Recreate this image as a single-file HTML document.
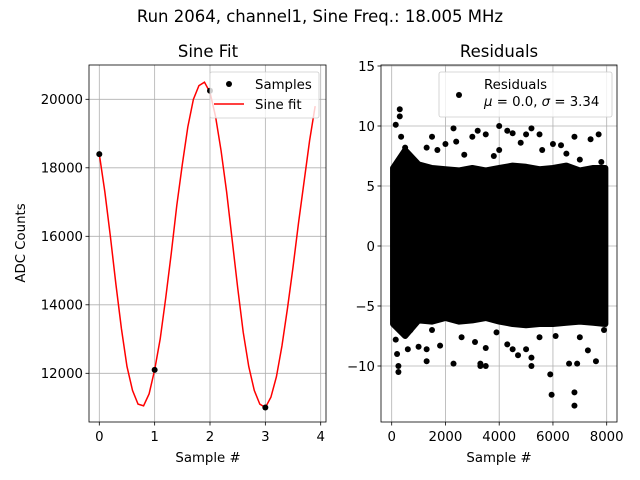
<!DOCTYPE html>
<html><head><meta charset="utf-8"><style>
html,body{margin:0;padding:0;background:#fff}
svg{display:block;font-family:"DejaVu Sans","Liberation Sans",sans-serif}
</style></head><body>
<svg id="fig" width="640" height="480" viewBox="0 0 640 480">
<text x="320" y="22" font-size="16.5" text-anchor="middle">Run 2064, channel1, Sine Freq.: 18.005 MHz</text>
<g id="left"></g>
<g id="right"></g>
</svg>
<script>
const sampleX=[0,1,2,3];
const sampleY=[18400,12100,20250,11000];
const fitX=[0,0.1,0.2,0.3,0.4,0.5,0.6,0.7,0.8,0.9,1.0,1.1,1.2,1.3,1.4,1.5,1.6,1.7,1.8,1.9,2.0,2.1,2.2,2.3,2.4,2.5,2.6,2.7,2.8,2.9,3.0,3.1,3.2,3.3,3.4,3.5,3.6,3.7,3.8,3.9];
const fitY=[18400,17300,16000,14600,13300,12200,11500,11100,11050,11400,12100,13000,14200,15500,16900,18100,19200,20000,20400,20500,20200,19500,18500,17300,15900,14500,13200,12200,11500,11100,11000,11300,11900,12800,13900,15100,16400,17600,18800,19800];
const leftXTicks=[0,1,2,3,4];
const leftYTicks=[12000,14000,16000,18000,20000];
const bandX=[50,500,1000,1500,2000,2500,3000,3500,4000,4500,5000,5500,6000,6500,7000,7500,7950];
const bandHi=[6.5,8.0,6.8,6.5,6.4,6.3,6.5,6.3,6.5,6.7,6.6,6.4,6.5,6.7,6.3,6.5,6.5];
const bandLo=[-6.5,-7.5,-6.2,-6.3,-6.0,-6.3,-6.2,-6.0,-6.3,-6.5,-6.6,-6.5,-6.5,-6.4,-6.3,-6.4,-6.5];
const outX=[300,300,150,350,1500,2500,2300,2400,3000,3200,3500,4000,4300,4500,5000,5200,5500,6000,6800,7400,7700,4000,1700,6300,500,800,1300,2000,2700,3800,4800,5600,6500,7000,7800,
 250,250,200,150,1300,1300,2300,3300,3300,3500,3500,4500,4700,5200,5200,5900,5950,6800,6800,6900,6600,7600,7300,5000,4300,1800,600,1000,700,1500,2600,3100,3900,5500,6100,7000,7900];
const outY=[11.4,10.8,10.1,9.1,9.1,12.6,9.8,8.7,9.1,9.6,9.3,10.0,9.6,9.4,9.3,9.8,9.3,8.5,9.1,8.9,9.3,8.0,8.0,8.4,8.2,7.0,8.2,8.5,7.6,7.5,8.6,8.0,7.7,7.2,7.0,
 -10.5,-10.0,-9.0,-7.8,-9.6,-8.6,-9.8,-10.0,-9.8,-10.0,-8.5,-8.6,-9.1,-10.0,-9.3,-10.7,-12.4,-12.2,-13.3,-9.8,-9.8,-9.6,-8.7,-8.6,-8.2,-8.3,-8.6,-8.4,-7.0,-7.0,-7.6,-8.0,-7.2,-7.6,-7.5,-7.6,-7.0];
const rightXTicks=[0,2000,4000,6000,8000];
const rightYTicks=[-10,-5,0,5,10,15];

const NS="http://www.w3.org/2000/svg";
function mk(parent,tag,attrs,text){const e=document.createElementNS(NS,tag);for(const k in attrs)e.setAttribute(k,attrs[k]);if(text!==undefined)e.textContent=text;parent.appendChild(e);return e;}
const FS=13.3;

// LEFT
const L=document.getElementById('left');
const lx=v=>99.3+v*55.35, ly=v=>373.3-(v-12000)*0.03425;
const T=65,B=422;
leftXTicks.forEach(t=>{const g=mk(L,'line',{x1:lx(t),x2:lx(t),y1:T,y2:B,stroke:'#b0b0b0','stroke-width':0.8});

mk(L,'line',{x1:lx(t),x2:lx(t),y1:B,y2:B+3.5,stroke:'#000','stroke-width':0.8});
const tx=mk(L,'text',{x:lx(t),y:B+19,'font-size':FS,'text-anchor':'middle'},String(t));
});
leftYTicks.forEach(t=>{const g=mk(L,'line',{x1:89,x2:326,y1:ly(t),y2:ly(t),stroke:'#b0b0b0','stroke-width':0.8});

mk(L,'line',{x1:85.5,x2:89,y1:ly(t),y2:ly(t),stroke:'#000','stroke-width':0.8});
const tx=mk(L,'text',{x:83,y:ly(t)+4.8,'font-size':FS,'text-anchor':'end'},String(t));
});
const fp=mk(L,'polyline',{points:fitX.map((x,i)=>lx(x)+','+ly(fitY[i])).join(' '),fill:'none',stroke:'#ff0000','stroke-width':1.5});

sampleX.forEach((x,i)=>{const c=mk(L,'circle',{cx:lx(x),cy:ly(sampleY[i]),r:3,fill:'#000'});
});
const lf=mk(L,'rect',{x:89,y:65,width:237,height:357,fill:'none',stroke:'#000','stroke-width':0.8});

const lg=mk(L,'g',{});
mk(lg,'rect',{x:210,y:72,width:109,height:46,rx:2,fill:'#fff','fill-opacity':0.8,stroke:'#ccc','stroke-width':0.8});
mk(lg,'circle',{cx:229,cy:84,r:3,fill:'#000'});
mk(lg,'text',{x:255,y:89,'font-size':FS},'Samples');
mk(lg,'line',{x1:214,x2:244,y1:104,y2:104,stroke:'#ff0000','stroke-width':1.5});
mk(lg,'text',{x:255,y:109,'font-size':FS},'Sine fit');
mk(L,'text',{x:208,y:57,'font-size':16.5,'text-anchor':'middle'},'Sine Fit');
mk(L,'text',{x:208,y:462,'font-size':FS,'text-anchor':'middle'},'Sample #');
mk(L,'text',{x:0,y:0,'font-size':FS,'text-anchor':'middle',transform:'translate(25,243) rotate(-90)'},'ADC Counts');

// RIGHT
const R=document.getElementById('right');
const rx=v=>391.7+v*0.026875, ry=v=>246-v*12;
const RL=381,RR=617;
rightXTicks.forEach(t=>{const g=mk(R,'line',{x1:rx(t),x2:rx(t),y1:T,y2:B,stroke:'#b0b0b0','stroke-width':0.8});

mk(R,'line',{x1:rx(t),x2:rx(t),y1:B,y2:B+3.5,stroke:'#000','stroke-width':0.8});
const tx=mk(R,'text',{x:rx(t),y:B+19,'font-size':FS,'text-anchor':'middle'},String(t));
});
rightYTicks.forEach(t=>{const g=mk(R,'line',{x1:RL,x2:RR,y1:ry(t),y2:ry(t),stroke:'#b0b0b0','stroke-width':0.8});

mk(R,'line',{x1:RL-3.5,x2:RL,y1:ry(t),y2:ry(t),stroke:'#000','stroke-width':0.8});
const tx=mk(R,'text',{x:RL-6,y:ry(t)+4.8,'font-size':FS,'text-anchor':'end'},t<0?'\u2212'+(-t):String(t));
});
const pts=bandX.map((x,i)=>rx(x)+','+ry(bandHi[i])).concat(bandX.slice().reverse().map((x,i)=>rx(x)+','+ry(bandLo[bandX.length-1-i])));
const band=mk(R,'polygon',{points:pts.join(' '),fill:'#000',stroke:'#000','stroke-width':6,'stroke-linejoin':'round'});

outX.forEach((x,i)=>{const c=mk(R,'circle',{cx:rx(x),cy:ry(outY[i]),r:3,fill:'#000'});
});
const rf=mk(R,'rect',{x:RL,y:65,width:RR-RL,height:357,fill:'none',stroke:'#000','stroke-width':0.8});

const rg=mk(R,'g',{});
mk(rg,'rect',{x:439,y:72,width:173,height:45,rx:2,fill:'#fff','fill-opacity':0.8,stroke:'#ccc','stroke-width':0.8});
mk(rg,'circle',{cx:459,cy:95,r:3,fill:'#000'});
mk(rg,'text',{x:484,y:89,'font-size':FS},'Residuals');
const mt=mk(rg,'text',{x:484,y:106,'font-size':FS});
mk(mt,'tspan',{'font-style':'italic'},'\u03bc');
mk(mt,'tspan',{},' = 0.0, ');
mk(mt,'tspan',{'font-style':'italic'},'\u03c3');
mk(mt,'tspan',{},' = 3.34');
mk(R,'text',{x:499,y:57,'font-size':16.5,'text-anchor':'middle'},'Residuals');
mk(R,'text',{x:499,y:462,'font-size':FS,'text-anchor':'middle'},'Sample #');
</script>
</body></html>
